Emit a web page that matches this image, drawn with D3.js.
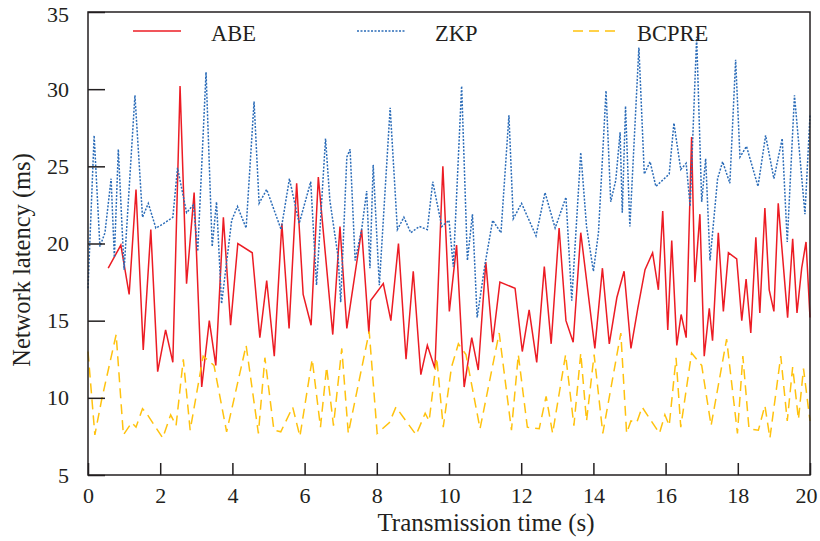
<!DOCTYPE html>
<html>
<head>
<meta charset="utf-8">
<script src="https://cdn.jsdelivr.net/npm/d3@7"></script>
<style>
  body { margin: 0; background: #fff; }
</style>
</head>
<body>
<div id="chart"></div>
<script>
// series labels
var seriesNames = ["ABE", "ZKP", "BCPRE"];

// x tick labels / y tick labels
var xTicks = [0, 2, 4, 6, 8, 10, 12, 14, 16, 18, 20];
var yTicks = [5, 10, 15, 20, 25, 30, 35];

// ABE (red solid)
var abeTime = [0.56, 0.91, 1.14, 1.33, 1.53, 1.74, 1.93, 2.15, 2.35, 2.55, 2.73, 2.94, 3.15, 3.36, 3.54, 3.75, 3.95, 4.15, 4.55, 4.76,
  4.95, 5.16, 5.37, 5.57, 5.78, 5.96, 6.18, 6.38, 6.78, 6.98, 7.17, 7.58, 7.78, 7.83, 8.18, 8.39, 8.60, 8.81, 9.01, 9.22,
  9.40, 9.61, 9.83, 10.01, 10.21, 10.42, 10.63, 10.81, 11.02, 11.21, 11.41, 11.83, 12.03, 12.22, 12.43, 12.64, 12.83, 13.05, 13.24, 13.44,
  13.65, 14.04, 14.25, 14.44, 14.65, 14.85, 15.04, 15.23, 15.43, 15.64, 15.80, 15.92, 16.06, 16.17, 16.31, 16.43, 16.57, 16.72, 16.81, 16.95,
  17.07, 17.21, 17.30, 17.46, 17.60, 17.74, 17.97, 18.11, 18.23, 18.36, 18.50, 18.61, 18.75, 18.87, 19.00, 19.12, 19.38, 19.52, 19.64, 19.77,
  19.89, 20.00];
var abeValue = [18.4, 19.9, 16.7, 23.5, 13.1, 20.9, 11.7, 14.4, 12.3, 30.2, 17.4, 23.3, 10.7, 15.0, 12.1, 21.7, 14.7, 20.0, 19.4, 13.9,
  17.6, 12.7, 21.3, 14.5, 23.9, 16.7, 14.7, 24.3, 14.1, 21.1, 14.5, 20.9, 14.2, 16.3, 17.4, 15.0, 20.0, 12.5, 18.2, 11.5,
  13.4, 11.9, 25.0, 15.6, 19.9, 10.7, 13.9, 11.8, 18.8, 13.6, 17.5, 17.1, 13.0, 15.7, 12.3, 18.5, 13.5, 21.0, 15.0, 13.6,
  20.7, 13.2, 18.4, 13.5, 16.5, 18.2, 13.2, 15.8, 18.3, 19.4, 17.0, 22.1, 14.4, 20.2, 13.4, 15.4, 13.9, 26.9, 17.5, 21.9,
  12.7, 15.8, 13.7, 20.7, 15.6, 19.4, 19.0, 15.0, 17.7, 14.2, 20.4, 15.5, 22.3, 17.0, 15.6, 22.6, 15.2, 20.3, 15.5, 18.4,
  20.1, 15.2];

// ZKP (blue dotted)
var zkpTime = [0, 0.17, 0.33, 0.47, 0.64, 0.73, 0.84, 1.00, 1.30, 1.51, 1.67, 1.88, 2.10, 2.35, 2.48, 2.73, 2.92, 3.04, 3.27, 3.44,
  3.56, 3.70, 3.98, 4.14, 4.38, 4.60, 4.74, 4.95, 5.35, 5.58, 5.85, 6.17, 6.33, 6.58, 6.70, 6.93, 7.00, 7.17, 7.26, 7.40,
  7.58, 7.72, 7.81, 7.90, 8.07, 8.37, 8.57, 8.75, 8.94, 9.18, 9.40, 9.55, 9.80, 10.00, 10.12, 10.35, 10.51, 10.65, 10.78, 11.00,
  11.21, 11.44, 11.66, 11.78, 12.01, 12.41, 12.66, 12.94, 13.24, 13.40, 13.65, 13.81, 14.00, 14.14, 14.23, 14.35, 14.48, 14.62, 14.74, 14.80,
  14.89, 15.01, 15.26, 15.41, 15.57, 15.73, 16.10, 16.23, 16.42, 16.57, 16.68, 16.86, 17.00, 17.11, 17.23, 17.44, 17.58, 17.78, 17.94, 18.06,
  18.24, 18.56, 18.77, 19.00, 19.23, 19.37, 19.57, 19.86, 20.00];
var zkpValue = [17.1, 27.0, 19.8, 20.7, 24.2, 19.1, 26.1, 18.3, 29.6, 21.7, 22.6, 21.0, 21.3, 21.7, 24.9, 22.0, 22.5, 19.5, 31.1, 19.8,
  22.7, 16.1, 21.5, 22.4, 21.0, 29.2, 22.6, 23.5, 20.9, 24.2, 21.3, 24.0, 17.3, 26.8, 22.8, 19.1, 16.2, 25.6, 26.1, 18.9,
  20.9, 23.4, 18.4, 25.1, 17.3, 28.8, 20.9, 21.7, 20.7, 21.1, 20.9, 24.0, 21.1, 21.5, 18.5, 30.2, 18.9, 21.9, 15.2, 18.7,
  21.5, 20.7, 28.3, 21.6, 22.6, 20.5, 23.3, 21.0, 23.0, 16.3, 25.9, 21.1, 18.2, 20.7, 24.6, 29.9, 22.7, 24.1, 27.2, 22.0,
  28.9, 21.1, 32.7, 24.5, 25.3, 23.7, 24.5, 27.8, 24.8, 25.2, 22.4, 33.4, 22.7, 25.5, 18.9, 24.2, 25.3, 23.9, 31.9, 25.6,
  26.3, 23.7, 27.0, 24.2, 26.8, 20.1, 29.6, 21.9, 28.3];

// BCPRE (yellow dashed)
var bcpreTime = [0, 0.19, 0.38, 0.78, 0.98, 1.21, 1.33, 1.51, 1.62, 2.07, 2.29, 2.44, 2.64, 2.83, 3.19, 3.49, 3.84, 4.38, 4.72, 4.90,
  5.15, 5.34, 5.67, 5.87, 6.21, 6.44, 6.61, 6.80, 7.03, 7.21, 7.79, 8.01, 8.35, 8.53, 9.09, 9.34, 9.45, 9.66, 9.84, 10.07,
  10.26, 10.47, 10.86, 11.39, 11.73, 11.92, 12.17, 12.50, 12.69, 12.87, 13.23, 13.46, 13.65, 13.81, 14.02, 14.26, 14.76, 14.92, 15.04, 15.20,
  15.35, 15.83, 15.98, 16.10, 16.29, 16.42, 16.72, 17.00, 17.26, 17.69, 17.99, 18.14, 18.31, 18.57, 18.75, 18.89, 19.19, 19.37, 19.52, 19.68,
  19.82, 20.00];
var bcpreValue = [13.0, 7.6, 9.9, 14.1, 7.6, 8.4, 8.1, 9.3, 9.0, 7.4, 8.9, 8.2, 12.5, 7.9, 12.7, 12.1, 7.8, 13.4, 7.7, 12.6,
  7.9, 7.8, 9.4, 7.5, 12.5, 8.1, 12.0, 8.2, 13.2, 7.7, 14.3, 7.7, 8.4, 9.4, 7.6, 9.0, 8.5, 12.6, 8.1, 12.0,
  13.5, 12.8, 8.0, 14.2, 7.9, 12.8, 8.1, 8.0, 10.1, 7.7, 12.8, 8.2, 12.9, 8.5, 12.8, 7.7, 14.2, 7.7, 8.5, 8.4,
  9.4, 7.7, 8.9, 8.2, 12.6, 8.1, 12.9, 12.1, 8.2, 13.8, 7.7, 12.7, 8.0, 7.9, 9.5, 7.4, 12.7, 8.5, 12.0, 8.6,
  11.9, 8.5];

var width = 820, height = 541;
var margin = {top: 12, right: 10, bottom: 66, left: 88};
var serif = "'Liberation Serif', 'Times New Roman', Tinos, 'DejaVu Serif', serif";
var ink = "#231f20";

var svg = d3.select("#chart").append("svg")
  .attr("width", width)
  .attr("height", height);

var x = d3.scaleLinear().domain([0, 20]).range([margin.left, width - margin.right]);
var y = d3.scaleLinear().domain([5, 35]).range([height - margin.bottom, margin.top]);

var series = [
  {name: seriesNames[0], t: abeTime, v: abeValue, color: "#ec1c24", dash: null},
  {name: seriesNames[1], t: zkpTime, v: zkpValue, color: "#2b6cb8", dash: "2,1.5"},
  {name: seriesNames[2], t: bcpreTime, v: bcpreValue, color: "#ffc20e", dash: "10,6"}
];

var line = d3.line()
  .x(function(d) { return x(d[0]); })
  .y(function(d) { return y(d[1]); });

// series lines
series.forEach(function(s) {
  svg.append("path")
    .datum(d3.zip(s.t, s.v))
    .attr("d", line)
    .attr("fill", "none")
    .attr("stroke", s.color)
    .attr("stroke-width", 1.5)
    .attr("stroke-dasharray", s.dash);
});

// axes, ticks pointing inward
var xAxis = svg.append("g")
  .attr("transform", "translate(0," + y(5) + ")")
  .call(d3.axisBottom(x).tickValues(xTicks).tickSize(-12).tickPadding(11).tickSizeOuter(0));
var yAxis = svg.append("g")
  .attr("transform", "translate(" + x(0) + ",0)")
  .call(d3.axisLeft(y).tickValues(yTicks).tickSize(-17).tickPadding(19).tickSizeOuter(0));

[xAxis, yAxis].forEach(function(g) {
  g.attr("font-family", null).attr("font-size", null);
  g.select(".domain").remove();
  g.selectAll(".tick line").attr("stroke", ink).attr("stroke-width", 1.5);
  g.selectAll(".tick text")
    .style("font-family", serif).style("font-size", "22px").attr("fill", ink);
});
xAxis.selectAll(".tick text").attr("dy", "0.75em");
// keep the end labels inside the frame of the picture
xAxis.selectAll(".tick text").filter(function(d) { return d === 20; }).attr("dx", "-4");
yAxis.selectAll(".tick text").filter(function(d) { return d === 35; }).attr("dy", "0.45em");

// frame
svg.append("rect")
  .attr("x", x(0)).attr("y", y(35))
  .attr("width", x(20) - x(0)).attr("height", y(5) - y(35))
  .attr("fill", "none").attr("stroke", ink).attr("stroke-width", 1.5);

// axis titles
svg.append("text")
  .attr("x", 486).attr("y", 531)
  .attr("text-anchor", "middle")
  .style("font-family", serif).style("font-size", "25px").attr("fill", ink)
  .text("Transmission time (s)");
svg.append("text")
  .attr("transform", "translate(30,260) rotate(-90)")
  .attr("text-anchor", "middle")
  .style("font-family", serif).style("font-size", "24.5px").attr("fill", ink)
  .text("Network latency (ms)");

// legend
var legendLineX = [133, 357, 573];
var legendTextX = [211, 435, 637];
var legend = svg.append("g");
series.forEach(function(s, i) {
  legend.append("line")
    .attr("x1", legendLineX[i]).attr("x2", legendLineX[i] + 48)
    .attr("y1", 31).attr("y2", 31)
    .attr("stroke", s.color).attr("stroke-width", 1.5)
    .attr("stroke-dasharray", s.dash);
  legend.append("text")
    .attr("x", legendTextX[i]).attr("y", 40.5)
    .style("font-family", serif).style("font-size", "22.5px").attr("fill", ink)
    .text(s.name);
});
</script>
</body>
</html>
